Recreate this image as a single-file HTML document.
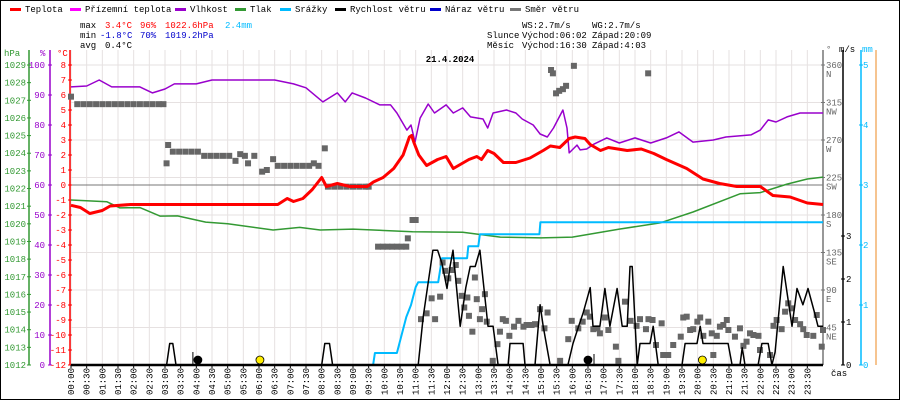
<!DOCTYPE html>
<html><head><meta charset="utf-8">
<style>
body{margin:0;background:#fff;}
#wrap{position:relative;width:900px;height:400px;overflow:hidden;background:#fff;}
svg{position:absolute;left:0;top:0;}
text{font-family:"Liberation Mono",monospace;font-size:9px;}
</style></head>
<body>
<div id="wrap">
<svg id="chart" width="900" height="400"></svg>
</div>
<script>
// ---- data ----
const tempTimes=[0,0.3,0.6,1.0,1.25,1.9,3,5,6.6,6.9,7.1,7.4,7.7,8.0,8.15,8.5,8.9,9.45,9.65,9.96,10.3,10.6,10.8,10.87,10.95,11.1,11.35,11.7,11.97,12.2,12.7,12.95,13.1,13.3,13.5,13.8,14.2,14.65,15.07,15.3,15.6,15.9,16.09,16.4,16.57,16.9,17.15,17.75,18.2,18.6,19.0,19.65,20.17,20.7,21.25,22.0,22.4,22.95,23.5,24];
const tempVals=[-1.35,-1.5,-1.9,-1.7,-1.4,-1.3,-1.3,-1.3,-1.3,-0.9,-1.1,-0.9,-0.3,0.5,-0.1,0.1,-0.1,-0.1,0.2,0.5,1.1,2.0,3.2,3.3,2.8,2.0,1.3,1.7,1.9,1.1,1.7,1.9,1.7,2.3,2.1,1.5,1.5,1.8,2.3,2.6,2.5,3.1,3.2,3.1,2.7,2.3,2.5,2.3,2.4,2.1,1.7,1.1,0.4,0.1,-0.1,-0.1,-0.7,-0.8,-1.2,-1.3];
const humTimes=[0,0.5,0.9,1.3,2.2,2.6,3.0,3.3,4.0,4.5,6.5,7.1,7.5,8.04,8.5,8.75,8.97,9.4,9.86,10.2,10.4,10.72,10.85,10.98,11.14,11.4,11.6,11.97,12.2,12.5,12.75,13.15,13.3,13.47,13.9,14.2,14.4,14.75,14.97,15.2,15.4,15.7,15.83,15.9,16.15,16.25,16.46,16.7,17.1,17.5,18.0,18.5,19.0,19.4,19.85,20.5,20.9,21.7,22.0,22.25,22.5,22.85,23.27,24];
const humVals=[92.7,93,95,92.7,92.7,90.7,92,93.7,93.7,95,95,93.7,92.4,87.7,90.7,87.7,90.7,89,86.7,86.7,84,78.3,80,74.3,82.3,87,84,86.7,84,85.7,82.7,82,79,84,85,84,82,80,77,76,79,85,79,70.7,73.3,71.7,72,73.7,75.7,74,75.7,74,75.7,77.7,74.3,75,76,76.7,78.3,81.7,81,82.7,84,84];
const presTimes=[0,1.15,1.56,2.2,2.84,3.4,4.3,5.0,6.45,7.3,7.95,9.0,10.9,12.5,13.7,15.0,16.0,17.5,18.8,19.85,21.35,22.0,22.85,23.5,24];
const presVals=[1021.35,1021.25,1020.9,1020.92,1020.44,1020.45,1020.1,1020.0,1019.65,1019.8,1019.65,1019.7,1019.55,1019.52,1019.25,1019.2,1019.25,1019.7,1020.05,1020.67,1021.7,1021.77,1022.25,1022.54,1022.65];
const rainTimes=[0,9.64,9.7,10.4,10.55,10.7,10.85,11.0,11.08,11.72,11.84,12.64,12.68,13.0,13.05,14.95,14.98,24];
const rainVals=[0,0,0.2,0.2,0.5,0.8,1.0,1.3,1.38,1.38,1.78,1.78,1.98,1.98,2.18,2.18,2.38,2.38];
const windTimes=[0,3.05,3.15,3.25,3.35,8.0,8.1,8.25,8.35,11.08,11.24,11.55,11.7,11.84,12.0,12.1,12.19,12.42,12.6,12.74,12.9,13.05,13.31,13.47,13.63,13.95,14.01,14.43,14.49,14.81,14.97,15.07,15.29,15.86,16.02,16.2,16.34,16.57,16.66,16.88,17.04,17.2,17.43,17.59,17.75,17.84,17.91,18.07,18.16,18.48,18.58,18.74,19.5,19.6,19.98,20.08,20.17,20.97,21.1,21.35,21.42,21.51,21.93,22.05,22.25,22.37,22.47,22.73,23.01,23.17,23.36,23.52,23.75,23.84,24];
const windVals=[0,0,0.5,0.5,0,0,0.5,0.5,0,0,1.12,2.67,2.67,2.36,1.78,2.3,2.67,0.9,1.8,2.29,2.29,2.67,0.9,0.9,0,0,0.5,0.5,0,0,1.4,0.9,0,0,0.5,0.9,1.2,1.8,0.9,0.9,1.78,0.9,1.78,0.9,0.9,2.29,2.29,0,0.5,0.5,0.9,0,0,0.5,0.5,0.9,0.5,0.5,0,0,0.4,0,0,0.5,0.5,0,0.3,2.29,0.9,1.78,1.4,1.78,1.16,0.9,0.9];
const dirTimes=[0,0.2,0.4,0.6,0.8,1.0,1.2,1.4,1.6,1.8,2.0,2.2,2.4,2.6,2.8,2.95,3.05,3.1,3.25,3.45,3.65,3.85,4.05,4.25,4.45,4.65,4.85,5.05,5.25,5.4,5.55,5.65,5.85,6.1,6.25,6.45,6.6,6.8,7.0,7.2,7.4,7.6,7.75,7.9,8.1,8.2,8.4,8.6,8.8,9.0,9.2,9.4,9.5,9.8,9.95,10.1,10.25,10.4,10.55,10.7,10.75,10.9,11.0,
11.17,11.35,11.51,11.62,11.78,11.86,11.94,12.04,12.15,12.28,12.36,12.47,12.55,12.65,12.70,12.81,12.89,12.95,13.05,13.12,13.21,13.27,13.46,13.61,13.69,13.78,13.88,13.99,14.14,14.28,14.44,14.54,14.70,14.81,14.97,15.11,15.21,15.32,15.38,15.48,15.58,15.61,15.70,15.80,15.87,15.98,16.05,16.19,16.33,16.46,16.56,16.67,16.80,16.88,17.04,17.15,17.39,17.47,17.68,17.86,18.05,18.16,18.35,18.42,18.43,18.56,18.67,18.85,18.90,19.06,19.22,19.46,19.54,19.65,19.76,19.86,19.99,20.08,20.18,20.34,20.45,20.50,20.61,20.71,20.82,20.93,20.98,21.19,21.35,21.46,21.56,21.67,21.78,21.94,21.99,22.31,22.42,22.52,22.68,22.79,22.89,23.00,23.11,23.27,23.37,23.48,23.69,23.80,23.96,24.0];
const dirVals=[322,313,313,313,313,313,313,313,313,313,313,313,313,313,313,313,242,264,256,256,256,256,256,251,251,251,251,251,245,253,251,242,251,232,234,247,239,239,239,239,239,239,242,239,260,214,214,214,214,214,214,214,214,142,142,142,142,142,142,142,152,174,174,
55,62,80,55,82,123,113,104,114,120,101,83,69,81,59,40,105,79,55,67,85,52,5,25,40,55,53,35,46,53,46,48,48,49,67,44,63,354,350,326,329,5,331,335,31,53,359,44,52,63,58,43,44,38,57,42,22,5,76,53,47,55,43,350,55,54,24,50,12,12,24,34,57,58,42,43,52,57,35,52,38,12,35,46,48,54,42,34,44,23,28,38,36,35,18,12,47,54,43,64,74,68,54,49,43,36,35,60,22,42];
const xTickLabels=["00:00","00:30","01:00","01:30","02:00","02:30","03:00","03:30","04:00","04:30","05:00","05:30","06:00","06:30","07:00","07:30","08:00","08:30","09:00","09:30","10:00","10:30","11:00","11:30","12:00","12:30","13:00","13:30","14:00","14:30","15:00","15:30","16:00","16:30","17:00","17:30","18:00","18:30","19:00","19:30","20:00","20:30","21:00","21:30","22:00","22:30","23:00","23:30"];
const tempTicks=[8,7,6,5,4,3,2,1,0,-1,-2,-3,-4,-5,-6,-7,-8,-9,-10,-11,-12];
const humTicks=[100,90,80,70,60,50,40,30,20,10,0];
const presTicks=[1029,1028,1027,1026,1025,1024,1023,1022,1021,1020,1019,1018,1017,1016,1015,1014,1013,1012];
const dirTicks=[360,315,270,225,180,135,90,45];
const dirNames=["N","NW","W","SW","S","SE","E","NE"];
const windTicks=[0,1,2,3];
const rainTicks=[0,1,2,3,4,5];

// ---- axes ----
const X0=71,X1=823,TOP=65,BOT=365;
const xS=h=>X0+h*(X1-X0)/24;
const yT=t=>BOT-(t+12)*15;
const yH=p=>BOT-p*3;
const yP=p=>BOT-(p-1012)*(300/17);
const yD=d=>BOT-d*(300/360);
const yW=v=>BOT-v*43;
const yR=r=>BOT-r*60;

const svg=document.getElementById('chart');
const NS='http://www.w3.org/2000/svg';
function mk(tag,attrs,parent){const e=document.createElementNS(NS,tag);for(const k in attrs)e.setAttribute(k,attrs[k]);(parent||svg).appendChild(e);return e;}
function txt(x,y,s,fill,anchor,extra){const e=mk('text',Object.assign({x:x,y:y,fill:fill||'#000','text-anchor':anchor||'start'},extra||{}));e.textContent=s;return e;}

let b=mk('rect',{x:0.5,y:0.5,width:899,height:399,fill:'none',stroke:'#000'});



const grid=mk('g',{});


for(let i=0;i<=48;i++){const x=xS(i/2);mk('line',{x1:x,y1:50,x2:x,y2:BOT,stroke:'#e6e1e1','stroke-width':1},grid);}
for(let y=TOP;y<BOT;y+=37.5){mk('line',{x1:X0,y1:y,x2:X1,y2:y,stroke:'#e6e1e1','stroke-width':1},grid);}
let zl=mk('line',{x1:X0,y1:yT(0),x2:X1,y2:yT(0),stroke:'#777','stroke-width':1});



function vaxis(x,color,name){const g=mk('g',{});mk('line',{x1:x,y1:50,x2:x,y2:BOT,stroke:color,'stroke-width':1.5},g);return g;}
const pa=vaxis(29,'#339933','pressure-axis');
presTicks.forEach(p=>{const y=yP(p);mk('line',{x1:27,y1:y,x2:31,y2:y,stroke:'#339933'},pa);const t=txt(26,y+3,String(p),'#339933','end');pa.appendChild(t);});
const ha=vaxis(50,'#9900cc','humidity-axis');
humTicks.forEach(p=>{const y=yH(p);mk('line',{x1:48,y1:y,x2:52,y2:y,stroke:'#9900cc'},ha);const t=txt(45,y+3,String(p),'#9900cc','end');ha.appendChild(t);});
const ta=vaxis(70,'#ff0000','temperature-axis');
tempTicks.forEach(p=>{const y=yT(p);mk('line',{x1:68,y1:y,x2:72,y2:y,stroke:'#ff0000'},ta);const t=txt(66,y+3,String(p),'#ff0000','end');ta.appendChild(t);});
txt(4,56,'hPa','#339933');txt(40,56,'%','#9900cc');txt(57,56,'°C','#ff0000');

const da=vaxis(823,'#777','direction-axis');
dirTicks.forEach((d,i)=>{const y=yD(d);mk('line',{x1:821,y1:y,x2:825,y2:y,stroke:'#777'},da);da.appendChild(txt(826,y+3,String(d),'#666'));da.appendChild(txt(826,y+12,dirNames[i],'#666'));});
txt(826,52,'°','#666');
const wa=vaxis(843,'#000','wind-axis');
windTicks.forEach(v=>{const y=yW(v);mk('line',{x1:841,y1:y,x2:845,y2:y,stroke:'#000'},wa);wa.appendChild(txt(846,y+3,String(v),'#000'));});
txt(839,52,'m/s','#000');
const ra=vaxis(861,'#00bbff','rain-axis');
rainTicks.forEach(v=>{const y=yR(v);mk('line',{x1:859,y1:y,x2:863,y2:y,stroke:'#00bbff'},ra);ra.appendChild(txt(863,y+3,String(v),'#00bbff'));});
txt(862,52,'mm','#00bbff');
let ol=mk('line',{x1:876,y1:50,x2:876,y2:BOT,stroke:'#ee8822','stroke-width':1});



const xl=mk('g',{});


xTickLabels.forEach((s,i)=>{const x=xS(i/2);mk('line',{x1:x,y1:BOT,x2:x,y2:BOT+3,stroke:'#000'},xl);const t=txt(0,0,s,'#000','end',{transform:`translate(${x+3},368) rotate(-90)`});xl.appendChild(t);});
txt(831,376,'čas','#000');

function poly(times,vals,ys,color,w,name){const pts=times.map((t,i)=>xS(t).toFixed(1)+','+ys(vals[i]).toFixed(1)).join(' ');const p=mk('polyline',{points:pts,fill:'none',stroke:color,'stroke-width':w,'stroke-linejoin':'round'});return p;}

poly(presTimes,presVals,yP,'#339933',1.5,'pressure-line');
poly(rainTimes,rainVals,yR,'#00bbff',2,'precipitation-line');
const dg=mk('g',{});


dirTimes.forEach((t,i)=>{const r=mk('rect',{x:xS(t)-3,y:yD(dirVals[i])-3,width:6,height:6,fill:'#666'},dg);});
poly(humTimes,humVals,yH,'#9900cc',1.5,'humidity-line');
poly(windTimes,windVals,yW,'#000',1.5,'wind-speed-line');
poly(tempTimes,tempVals,yT,'#ff0000',3,'temperature-line');
let xa=mk('line',{x1:X0,y1:BOT,x2:X1,y2:BOT,stroke:'#000','stroke-width':2.5});



function marker(h,fill,name){const c=mk('circle',{cx:xS(h),cy:360,r:4,fill:fill,stroke:'#000','stroke-width':0.8});}
marker(4.05,'#000','moonset-marker');mk('line',{x1:xS(4.05)-5,y1:352,x2:xS(4.05)-5,y2:365,stroke:'#000'});
marker(6.03,'#ffee00','sunrise-marker');
marker(16.5,'#000','moonrise-marker');mk('line',{x1:xS(16.5)+6,y1:354,x2:xS(16.5)+6,y2:365,stroke:'#000'});
marker(20.15,'#ffee00','sunset-marker');

const legend=[['Teplota','#ff0000',25],['Přízemní teplota','#ff00ff',85],['Vlhkost','#9900cc',190],['Tlak','#339933',250],['Srážky','#00bbff',295],['Rychlost větru','#000',350],['Náraz větru','#0000cc',445],['Směr větru','#777',525]];
legend.forEach(l=>{const g=mk('g',{});mk('rect',{x:l[2]-15,y:8,width:11,height:3,fill:l[1]},g);g.appendChild(txt(l[2],12,l[0],'#000'));});
txt(80,28,'max','#000');txt(105,28,'3.4°C','#ff0000');txt(140,28,'96%','#ff0000');txt(165,28,'1022.6hPa','#ff0000');txt(225,28,'2.4mm','#00bbff');
txt(80,38,'min','#000');txt(100,38,'-1.8°C','#0000cc');txt(140,38,'70%','#0000cc');txt(165,38,'1019.2hPa','#0000cc');
txt(80,48,'avg','#000');txt(105,48,'0.4°C','#000');
txt(522,28,'WS:2.7m/s','#000');txt(592,28,'WG:2.7m/s','#000');
txt(487,38,'Slunce','#000');txt(522,38,'Východ:06:02','#000');txt(592,38,'Západ:20:09','#000');
txt(487,48,'Měsíc','#000');txt(522,48,'Východ:16:30','#000');txt(592,48,'Západ:4:03','#000');
const title=txt(450,62,'21.4.2024','#000','middle',{'font-weight':'bold','font-size':'13px'});


</script>
</body></html>
